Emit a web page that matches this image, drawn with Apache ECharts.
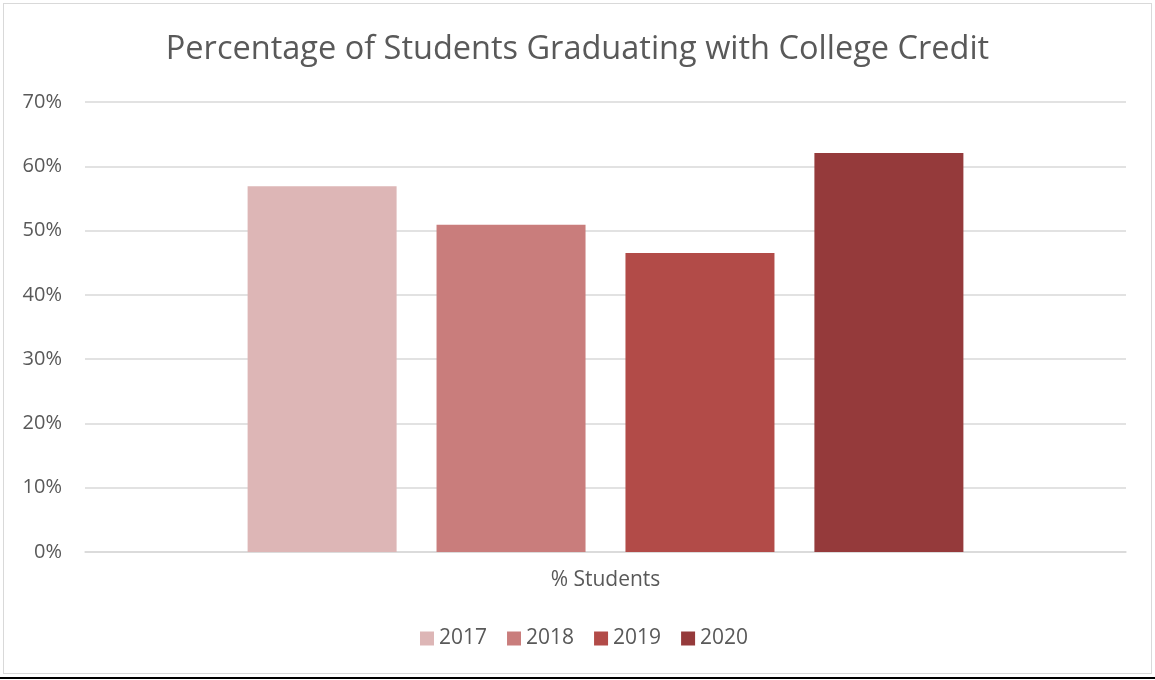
<!DOCTYPE html>
<html>
<head>
<meta charset="utf-8">
<script src="https://cdn.jsdelivr.net/npm/echarts@6/dist/echarts.min.js"></script>
<style>
  html, body { margin: 0; padding: 0; background: #fff; }
  #frame { position: absolute; left: 3px; top: 3px; width: 1149px; height: 671px;
           border: 1px solid #d9d9d9; box-sizing: border-box; }
  #baseline { position: absolute; left: 0; top: 677px; width: 1155px; height: 2px; background: #000; }
  #chart { position: absolute; left: 0; top: 0; width: 1155px; height: 680px; }
</style>
</head>
<body>
<div id="frame"></div>
<div id="baseline"></div>
<div id="chart"></div>
<script>
// Share of graduates leaving with college credit, by graduating year
const categories = ['% Students'];
const years = ['2017', '2018', '2019', '2020'];
const values2017 = [56.9];
const values2018 = [50.9];
const values2019 = [46.5];
const values2020 = [62.05];
const yTicks = [0, 10, 20, 30, 40, 50, 60, 70];

const seriesValues = [values2017, values2018, values2019, values2020];
const colors = ['#ddb6b6', '#c97d7c', '#b24b48', '#953a3b'];
const textColor = '#595959';
const font = '"Open Sans", "Noto Sans", sans-serif';

const chart = echarts.init(document.getElementById('chart'), null, { renderer: 'canvas' });
chart.setOption({
  animation: false,
  color: colors,
  title: {
    text: 'Percentage of Students Graduating with College Credit',
    left: 'center',
    top: 28,
    textStyle: { color: textColor, fontFamily: font, fontSize: 32.5, fontWeight: 'normal' }
  },
  legend: {
    data: years,
    bottom: 26,
    left: 415,
    icon: 'rect',
    itemWidth: 14,
    itemHeight: 14,
    itemGap: 20,
    textStyle: { color: textColor, fontFamily: font, fontSize: 21 }
  },
  grid: { left: 85, right: 29, top: 102, bottom: 128, containLabel: false },
  xAxis: {
    type: 'category',
    data: categories,
    axisLine: { show: true, lineStyle: { color: '#d9d9d9', width: 1.5 } },
    axisTick: { show: false },
    axisLabel: { color: textColor, fontFamily: font, fontSize: 21, margin: 18 }
  },
  yAxis: {
    type: 'value',
    min: yTicks[0],
    max: yTicks[yTicks.length - 1],
    interval: 10,
    axisLine: { show: false },
    axisTick: { show: false },
    splitLine: { lineStyle: { color: '#d9d9d9', width: 1.5 } },
    axisLabel: {
      color: textColor, fontFamily: font, fontSize: 20, margin: 23,
      formatter: v => v + '%'
    }
  },
  series: years.map((y, i) => ({
    name: y,
    type: 'bar',
    data: seriesValues[i],
    barWidth: 149,
    barGap: '26.8%',
    itemStyle: { color: colors[i] }
  }))
});
</script>
</body>
</html>
